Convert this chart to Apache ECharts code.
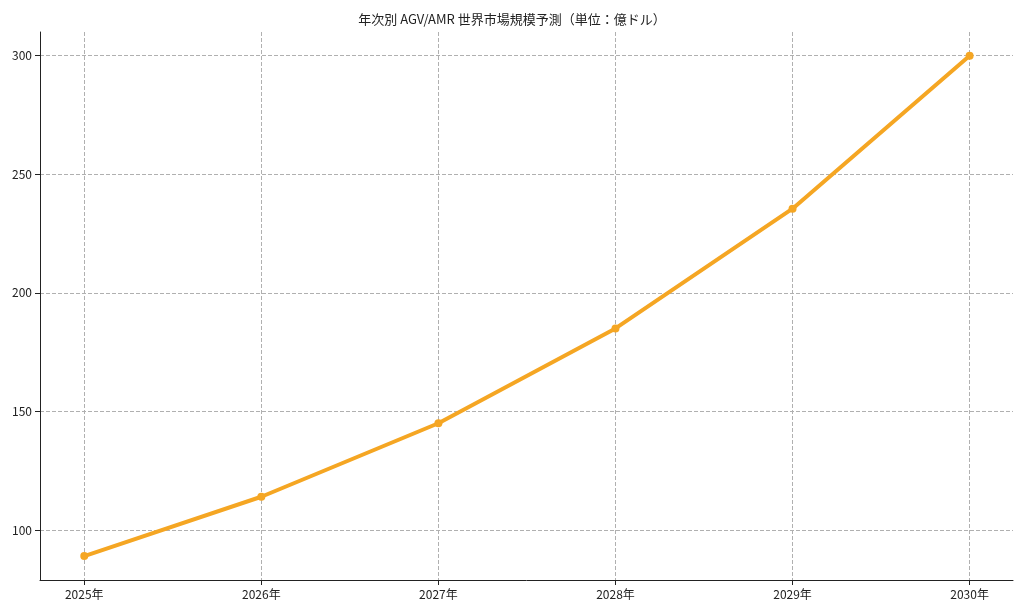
<!DOCTYPE html>
<html><head><meta charset="utf-8">
<script src="https://cdn.jsdelivr.net/npm/echarts@6/dist/echarts.min.js"></script>
<style>html,body{margin:0;background:#fff}#c{width:1024px;height:611px}</style>
</head><body><div id="c"></div>
<script>
const years = [2025, 2026, 2027, 2028, 2029, 2030];
const values = [89, 114, 145, 185, 235.5, 300];
const yTicks = [100, 150, 200, 250, 300];
const title = '年次別 AGV/AMR 世界市場規模予測（単位：億ドル）';
const font = '"Noto Sans CJK JP", "Noto Sans", sans-serif';
const chart = echarts.init(document.getElementById('c'));
chart.setOption({
  animation: false,
  title: {text: title, left: 'center', top: 8, textStyle: {fontFamily: font, fontSize: 13, fontWeight: 'normal', color: '#222'}},
  grid: {left: 40, right: 11, top: 32, bottom: 31},
  xAxis: {
    type: 'value', min: 2024.75, max: 2030.245,
    axisLine: {show: true, onZero: false, lineStyle: {color: '#222'}},
    axisTick: {show: true, customValues: years, length: 5, lineStyle: {color: '#222'}},
    axisLabel: {customValues: years, formatter: v => v + '年', fontFamily: font, fontSize: 12, color: '#222'},
    splitLine: {show: true, lineStyle: {type: 'dashed', color: '#b0b0b0'}}
  },
  yAxis: {
    type: 'value', min: 78.9, max: 310,
    axisLine: {show: true, lineStyle: {color: '#222'}},
    axisTick: {show: true, customValues: yTicks, length: 5, lineStyle: {color: '#222'}},
    axisLabel: {customValues: yTicks, fontFamily: font, fontSize: 12, color: '#222'},
    splitLine: {show: true, lineStyle: {type: 'dashed', color: '#b0b0b0'}}
  },
  series: [{
    type: 'line', data: years.map((y, i) => [y, values[i]]),
    lineStyle: {width: 4, color: '#f5a623'}, itemStyle: {color: '#f5a623'},
    symbol: 'circle', symbolSize: 8
  }]
});
</script></body></html>
